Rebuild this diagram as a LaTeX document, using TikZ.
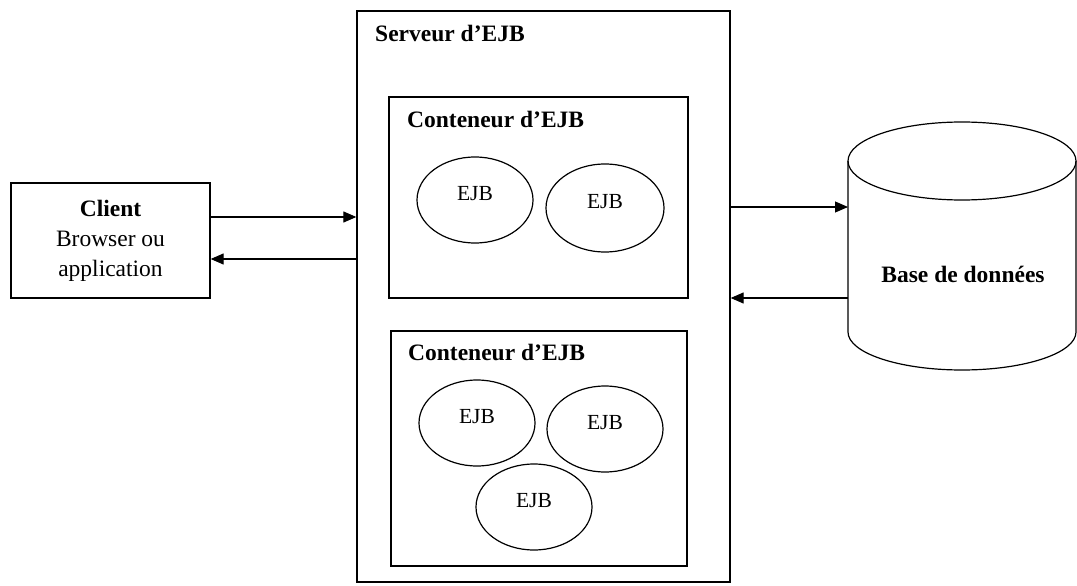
\documentclass[tikz,border=0pt]{standalone}
\usepackage{fontspec}
\setmainfont{Liberation Serif}
\usetikzlibrary{shapes.geometric,arrows.meta}

\begin{document}
\begin{tikzpicture}[x=1pt,y=1pt,
  font=\fontsize{23.5}{30}\selectfont,
  box/.style={draw, line width=1.3pt, inner sep=0pt},
  ejb/.style={draw, ellipse, line width=1.2pt, minimum width=116pt, minimum height=86pt, text depth=14pt, inner sep=0pt, font=\fontsize{21.5}{26}\selectfont},
  title/.style={anchor=base west, inner sep=0pt, font=\fontsize{23.5}{30}\selectfont\bfseries},
  flow/.style={line width=1.1pt, -{Triangle[length=13pt,width=11pt]}}]
\useasboundingbox (0,0) rectangle (1077,-586);

% client
\node[box, minimum width=199pt, minimum height=115pt, align=center] (client) at (110.5,-240.5) {\textbf{Client}\\Browser ou\\application};

% serveur et conteneurs
\node[box, minimum width=373pt, minimum height=571pt] (server) at (543.5,-296.5) {};
\node[title] (serverlbl) at (375,-42) {Serveur d'EJB};
\node[box, minimum width=299pt, minimum height=201pt] (cont1) at (538.5,-197.5) {};
\node[title] (cont1lbl) at (407,-127) {Conteneur d'EJB};
\node[box, minimum width=296pt, minimum height=235pt] (cont2) at (539,-448.5) {};
\node[title] (cont2lbl) at (408,-360) {Conteneur d'EJB};

\node[ejb] (ejb1) at (475,-200) {EJB};
\node[ejb, minimum width=118pt, minimum height=88pt] (ejb2) at (605,-208) {EJB};
\node[ejb] (ejb3) at (477,-423) {EJB};
\node[ejb] (ejb4) at (605,-429) {EJB};
\node[ejb] (ejb5) at (534,-507) {EJB};

% base de donnees
\coordinate (dbside) at (848,-246);
\draw[line width=1.2pt] (962,-161) ellipse (114 and 39);
\draw[line width=1.2pt] (848,-161) -- (848,-332) arc (180:360:114 and 38) -- (1076,-161);
\node[font=\fontsize{23.5}{30}\selectfont\bfseries] (db) at (963,-274) {Base de données};

% fleches
\draw[flow] ([yshift=23.5pt]client.east) -- ([yshift=23.5pt]client.east -| server.west);
\draw[flow] ([yshift=-18.5pt]client.east -| server.west) -- ([yshift=-18.5pt]client.east);
\draw[flow] ([yshift=89.5pt]server.east) -- ([yshift=89.5pt]server.east -| dbside);
\draw[flow] ([yshift=-1.5pt]server.east -| dbside) -- ([yshift=-1.5pt]server.east);
\end{tikzpicture}
\end{document}
